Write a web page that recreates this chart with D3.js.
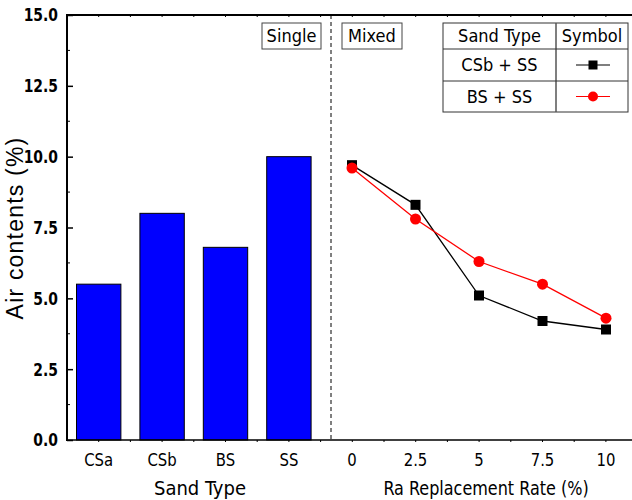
<!DOCTYPE html>
<html>
<head>
<meta charset="utf-8">
<script src="https://cdn.jsdelivr.net/npm/d3@7"></script>
<style>
  body { margin: 0; background: #fff; }
  .narrow { font-family: "Liberation Sans Narrow", "DejaVu Sans Condensed", "Arial Narrow", sans-serif; }
</style>
</head>
<body>
<div id="chart"></div>
<script>
// data
let sandTypes = ["CSa", "CSb", "BS", "SS"];
let singleAir = [5.5, 8.0, 6.8, 10.0];

let rates = [0, 2.5, 5, 7.5, 10];
let csbSS = [9.7, 8.3, 5.1, 4.2, 3.9];
let bsSS = [9.6, 7.8, 6.3, 5.5, 4.3];

let yTicks = [0, 2.5, 5, 7.5, 10, 12.5, 15];

let W = 632, H = 500;
let mLeft = 67, mTop = 15, mBottom = 440, mRight = 632;

let svg = d3.select("#chart").append("svg")
    .attr("width", W).attr("height", H);

let y = d3.scaleLinear().domain([0, 15]).range([mBottom, mTop]);

// left part: bars
let xBand = d3.scaleBand().domain(sandTypes)
    .range([mLeft, mLeft + 4 * 63.4])
    .paddingInner(0.3).paddingOuter(0.15);

// right part: replacement rate
let xRate = d3.scaleLinear().domain([0, 10]).range([352, 606]);

// text squeezed a bit horizontally, the original font is a narrow one
function sqText(g, x, y, sx) {
    return g.append("text")
        .attr("class", "narrow")
        .attr("transform", `translate(${x},${y}) scale(${sx},1)`);
}

// bars
svg.append("g").selectAll("rect")
    .data(sandTypes)
    .enter().append("rect")
    .attr("x", d => xBand(d))
    .attr("y", (d, i) => y(singleAir[i]))
    .attr("width", xBand.bandwidth())
    .attr("height", (d, i) => mBottom - y(singleAir[i]))
    .attr("fill", "#0000ff")
    .attr("stroke", "#000")
    .attr("stroke-width", 1);

// dashed separator
svg.append("line")
    .attr("x1", 331).attr("x2", 331)
    .attr("y1", mTop).attr("y2", mBottom)
    .attr("stroke", "#000").attr("stroke-width", 1)
    .attr("stroke-dasharray", "4,3");

// y axis, ticks inside
let yAxis = svg.append("g")
    .attr("transform", `translate(${mLeft},0)`)
    .call(d3.axisRight(y).tickValues(yTicks).tickSize(6).tickFormat(""));
yAxis.select(".domain").remove();
yAxis.selectAll("line").attr("stroke-width", 1.5);

// minor y ticks
svg.append("g").selectAll("line")
    .data(d3.range(1.25, 15, 2.5))
    .enter().append("line")
    .attr("x1", mLeft).attr("x2", mLeft + 3)
    .attr("y1", d => y(d)).attr("y2", d => y(d))
    .attr("stroke", "#000").attr("stroke-width", 1);

let yLab = svg.append("g");
yTicks.forEach(t => {
    sqText(yLab, mLeft - 9, y(t), 0.86)
        .attr("dy", "0.36em")
        .attr("text-anchor", "end")
        .style("font-size", "18px")
        .style("font-weight", "bold")
        .text(t.toFixed(1));
});

// frame lines
svg.append("line")
    .attr("x1", mLeft).attr("x2", mLeft)
    .attr("y1", mTop - 1).attr("y2", mBottom + 1)
    .attr("stroke", "#000").attr("stroke-width", 2);
svg.append("line")
    .attr("x1", mLeft - 1).attr("x2", mRight)
    .attr("y1", mTop).attr("y2", mTop)
    .attr("stroke", "#000").attr("stroke-width", 2);
svg.append("line")
    .attr("x1", mLeft - 1).attr("x2", mRight)
    .attr("y1", mBottom).attr("y2", mBottom)
    .attr("stroke", "#000").attr("stroke-width", 1.5);

// tiny half-step ticks on top and bottom
let halfTicks = d3.range(mLeft + 31.7, mRight, 31.7);
svg.append("g").selectAll("line")
    .data(halfTicks)
    .enter().append("line")
    .attr("x1", d => d).attr("x2", d => d)
    .attr("y1", mBottom).attr("y2", mBottom + 2)
    .attr("stroke", "#000").attr("stroke-width", 1);
svg.append("g").selectAll("line")
    .data(halfTicks)
    .enter().append("line")
    .attr("x1", d => d).attr("x2", d => d)
    .attr("y1", mTop).attr("y2", mTop + 2)
    .attr("stroke", "#000").attr("stroke-width", 1);

// x tick labels
let xLab = svg.append("g");
sandTypes.forEach(s => {
    sqText(xLab, xBand(s) + xBand.bandwidth() / 2, 466, 0.92)
        .attr("text-anchor", "middle")
        .style("font-size", "18px")
        .text(s);
});
rates.forEach(r => {
    sqText(xLab, xRate(r), 466, 0.92)
        .attr("text-anchor", "middle")
        .style("font-size", "18px")
        .text(r);
});

// axis titles
sqText(svg, 200, 495, 1)
    .attr("text-anchor", "middle")
    .style("font-size", "20px")
    .text("Sand Type");
sqText(svg, 486, 495, 0.89)
    .attr("text-anchor", "middle")
    .style("font-size", "20px")
    .text("Ra Replacement Rate (%)");
svg.append("text")
    .attr("transform", "translate(23,228) rotate(-90)")
    .attr("text-anchor", "middle")
    .style("font-family", "'Liberation Sans', Arial, sans-serif")
    .style("font-size", "23px")
    .style("letter-spacing", "1.2px")
    .text("Air contents (%)");

// lines and markers
let line = d3.line().x((d, i) => xRate(rates[i])).y(d => y(d));

svg.append("path").datum(csbSS)
    .attr("d", line).attr("fill", "none")
    .attr("stroke", "#000").attr("stroke-width", 1.3);
svg.append("path").datum(bsSS)
    .attr("d", line).attr("fill", "none")
    .attr("stroke", "#ff0000").attr("stroke-width", 1.3);

svg.append("g").selectAll("rect")
    .data(csbSS)
    .enter().append("rect")
    .attr("x", (d, i) => xRate(rates[i]) - 5)
    .attr("y", d => y(d) - 5)
    .attr("width", 10).attr("height", 10)
    .attr("fill", "#000");
svg.append("g").selectAll("circle")
    .data(bsSS)
    .enter().append("circle")
    .attr("cx", (d, i) => xRate(rates[i]))
    .attr("cy", d => y(d))
    .attr("r", 5.5)
    .attr("fill", "#ff0000");

// Single / Mixed labels
function boxLabel(x0, x1, txt) {
    svg.append("rect")
        .attr("x", x0).attr("y", 23)
        .attr("width", x1 - x0).attr("height", 26)
        .attr("fill", "#fff").attr("stroke", "#444").attr("stroke-width", 1);
    svg.append("text").attr("class", "narrow")
        .attr("x", (x0 + x1) / 2).attr("y", 42)
        .attr("text-anchor", "middle")
        .style("font-size", "18px")
        .text(txt);
}
boxLabel(262, 321, "Single");
boxLabel(342, 402, "Mixed");

// legend table
let lg = svg.append("g");
let lx0 = 443, lx1 = 628, lmid = 556;
let rowsY = [23, 49, 81, 112];
lg.append("rect")
    .attr("x", lx0).attr("y", rowsY[0])
    .attr("width", lx1 - lx0).attr("height", rowsY[3] - rowsY[0])
    .attr("fill", "#fff").attr("stroke", "#333").attr("stroke-width", 1);
lg.append("line").attr("x1", lmid).attr("x2", lmid)
    .attr("y1", rowsY[0]).attr("y2", rowsY[3])
    .attr("stroke", "#555").attr("stroke-width", 1.5);
[rowsY[1], rowsY[2]].forEach(ry => {
    lg.append("line").attr("x1", lx0).attr("x2", lx1)
        .attr("y1", ry).attr("y2", ry)
        .attr("stroke", "#333").attr("stroke-width", 1);
});
let cellText = [
    ["Sand Type", (lx0 + lmid) / 2, 0],
    ["Symbol", (lmid + lx1) / 2, 0],
    ["CSb + SS", (lx0 + lmid) / 2, 1],
    ["BS + SS", (lx0 + lmid) / 2, 2]
];
cellText.forEach(c => {
    lg.append("text").attr("class", "narrow")
        .attr("x", c[1])
        .attr("y", (rowsY[c[2]] + rowsY[c[2] + 1]) / 2)
        .attr("dy", "0.36em")
        .attr("text-anchor", "middle")
        .style("font-size", "18px")
        .text(c[0]);
});
let symX = 593;
let y1 = (rowsY[1] + rowsY[2]) / 2, y2 = (rowsY[2] + rowsY[3]) / 2;
lg.append("line").attr("x1", symX - 17).attr("x2", symX + 17)
    .attr("y1", y1).attr("y2", y1).attr("stroke", "#000").attr("stroke-width", 1.2);
lg.append("rect").attr("x", symX - 4.5).attr("y", y1 - 4.5)
    .attr("width", 9).attr("height", 9).attr("fill", "#000");
lg.append("line").attr("x1", symX - 17).attr("x2", symX + 17)
    .attr("y1", y2).attr("y2", y2).attr("stroke", "#ff0000").attr("stroke-width", 1.2);
lg.append("circle").attr("cx", symX).attr("cy", y2)
    .attr("r", 5).attr("fill", "#ff0000");
</script>
</body>
</html>
